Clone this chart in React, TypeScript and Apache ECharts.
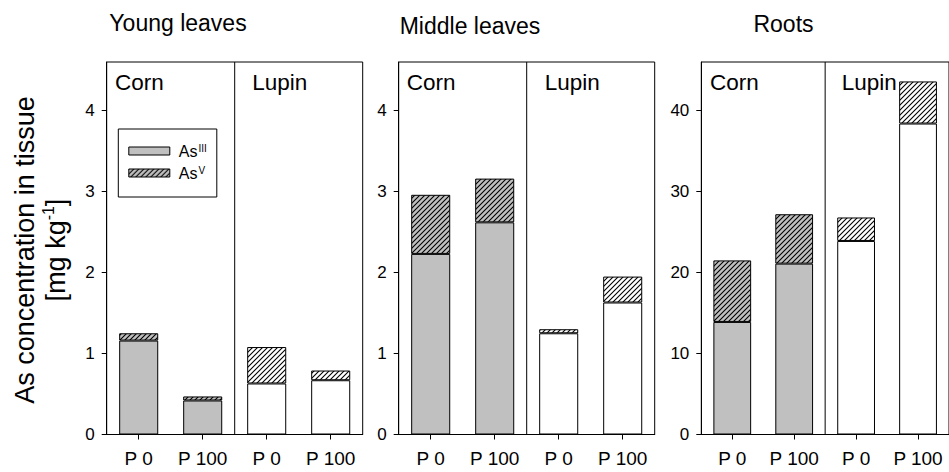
import React, { useEffect, useRef } from 'react';
import * as echarts from 'echarts';

// ---- data ----
const categories = ['P 0', 'P 100', 'P 0', 'P 100'];
const panelTitles = ['Young leaves', 'Middle leaves', 'Roots'];
const groupLabels = ['Corn', 'Lupin'];
const youngAsIII = [1.16, 0.42, 0.63, 0.67];
const youngAsV = [0.09, 0.05, 0.45, 0.12];
const middleAsIII = [2.23, 2.62, 1.25, 1.63];
const middleAsV = [0.73, 0.54, 0.05, 0.32];
const rootsAsIII = [13.9, 21.1, 23.9, 38.4];
const rootsAsV = [7.6, 6.1, 2.9, 5.2];
const yMaxes = [4.6, 4.6, 46];
const yTickValues = [
  [0, 1, 2, 3, 4],
  [0, 1, 2, 3, 4],
  [0, 10, 20, 30, 40],
];
const dividerPosition = 1.5;

const FONT = "'Liberation Sans', Arial, Helvetica, sans-serif";
const GRAY = '#c0c0c0';

function makeHatch(bg: string) {
  const s = 5;
  const svg =
    `<svg xmlns='http://www.w3.org/2000/svg' width='${s}' height='${s}'>` +
    `<rect width='${s}' height='${s}' fill='${bg}'/>` +
    `<path d='M0 ${s}L${s} 0M-1 1L1 -1M${s - 1} ${s + 1}L${s + 1} ${s - 1}' stroke='black' stroke-width='1.1'/>` +
    `</svg>`;
  const url = 'data:image/svg+xml;charset=utf-8,' + encodeURIComponent(svg);
  return { image: url, repeat: 'repeat', imageWidth: s, imageHeight: s } as any;
}

export default function App() {
  const ref = useRef<HTMLDivElement>(null);
  useEffect(() => {
    if (!ref.current) return;
    const chart = echarts.init(ref.current, null, { renderer: 'svg' });
    const hatchGray = makeHatch(GRAY);
    const hatchWhite = makeHatch('#ffffff');

    const gridLefts = [106.7, 398.7, 701.3];
    const gridTop = 62;
    const gridHeight = 372.5;
    const gridWidth = 256;

    const panelsAsIII = [youngAsIII, middleAsIII, rootsAsIII];
    const panelsAsV = [youngAsV, middleAsV, rootsAsV];

    const grid = gridLefts.map((l) => ({
      left: l,
      top: gridTop,
      width: gridWidth,
      height: gridHeight,
      show: true,
      borderColor: '#000',
      borderWidth: 1,
      backgroundColor: 'transparent',
      containLabel: false,
    }));

    const xAxis: any[] = [];
    gridLefts.forEach((_, i) => {
      xAxis.push({
        type: 'category',
        gridIndex: i,
        data: categories,
        axisLine: { show: true, onZero: false, lineStyle: { color: '#000', width: 1 } },
        axisTick: { show: true, alignWithLabel: true, length: 5, lineStyle: { color: '#000' } },
        axisLabel: { fontSize: 19, color: '#000', fontFamily: FONT, margin: 14, interval: 0 },
        splitLine: { show: false },
      });
    });
    gridLefts.forEach((_, i) => {
      xAxis.push({
        type: 'value',
        gridIndex: i,
        min: -0.5,
        max: 3.5,
        show: false,
        axisLine: { onZero: false },
      });
    });

    const yAxis = gridLefts.map((_, i) => ({
      type: 'value',
      gridIndex: i,
      min: 0,
      max: yMaxes[i],
      position: 'left',
      axisLine: { show: true, onZero: false, lineStyle: { color: '#000', width: 1 } },
      axisTick: { show: true, length: 5, lineStyle: { color: '#000' }, customValues: yTickValues[i] },
      axisLabel: { fontSize: 17, color: '#000', fontFamily: FONT, margin: 12, customValues: yTickValues[i] },
      splitLine: { show: false },
    }));

    const series: any[] = [];
    gridLefts.forEach((_, i) => {
      series.push({
        type: 'bar',
        name: 'AsIII',
        xAxisIndex: i,
        yAxisIndex: i,
        stack: 'g' + i,
        barWidth: '61%',
        itemStyle: { color: GRAY, borderColor: '#000', borderWidth: 1 },
        data: panelsAsIII[i].map((v, j) => ({
          value: v,
          itemStyle: { color: j < 2 ? GRAY : '#ffffff' },
        })),
      });
      series.push({
        type: 'bar',
        name: 'AsV',
        xAxisIndex: i,
        yAxisIndex: i,
        stack: 'g' + i,
        barWidth: '61%',
        itemStyle: { color: hatchGray, borderColor: '#000', borderWidth: 1 },
        data: panelsAsV[i].map((v, j) => ({
          value: v,
          itemStyle: { color: j < 2 ? hatchGray : hatchWhite },
        })),
      });
      series.push({
        type: 'line',
        name: 'divider' + i,
        xAxisIndex: 3 + i,
        yAxisIndex: i,
        symbol: 'none',
        silent: true,
        lineStyle: { color: '#000', width: 1 },
        data: [
          [dividerPosition, 0],
          [dividerPosition, yMaxes[i]],
        ],
      });
    });

    const titlePos = [
      [178, 23],
      [470, 25.5],
      [783.5, 24],
    ];
    const cornX = [115, 406.7, 710];
    const lupinX = [252.3, 544.7, 841.7];

    const graphic: any[] = [];
    const txt = (text: string, x: number, y: number, align: string, size: number) => ({
      type: 'text',
      x,
      y,
      style: {
        text,
        fill: '#000',
        fontSize: size,
        fontFamily: FONT,
        align,
        verticalAlign: 'middle',
        textAlign: align,
        textVerticalAlign: 'middle',
      },
    });
    panelTitles.forEach((t, i) => {
      graphic.push(txt(t, titlePos[i][0], titlePos[i][1], 'center', 23));
      graphic.push(txt(groupLabels[0], cornX[i], 82, 'left', 22.5));
      graphic.push(txt(groupLabels[1], lupinX[i], 82, 'left', 22.5));
    });
    graphic.push({
      type: 'text',
      x: 40,
      y: 250,
      rotation: Math.PI / 2,
      style: {
        text: '{b|As concentration in tissue}\n{b|[mg kg}{sup|-1}{b|]}',
        fill: '#000',
        fontSize: 27,
        fontFamily: FONT,
        align: 'center',
        verticalAlign: 'middle',
        textAlign: 'center',
        textVerticalAlign: 'middle',
        rich: {
          b: { fontSize: 27, fontFamily: FONT, lineHeight: 31, fill: '#000' },
          sup: { fontSize: 16, fontFamily: FONT, lineHeight: 14, verticalAlign: 'top', fill: '#000' },
        },
      },
    });

    chart.setOption({
      animation: false,
      grid,
      xAxis,
      yAxis,
      series,
      graphic,
      legend: {
        data: ['AsIII', 'AsV'],
        orient: 'vertical',
        left: 118.3,
        top: 129,
        padding: [14, 10, 16, 10],
        itemGap: 6,
        itemWidth: 41,
        itemHeight: 8,
        borderColor: '#000',
        borderWidth: 1,
        backgroundColor: '#fff',
        selectedMode: false,
        icon: 'rect',
        itemStyle: { borderColor: '#000', borderWidth: 1 },
        formatter: (name: string) => (name === 'AsIII' ? '{a|As}{sup|III}' : '{a|As}{sup|V}'),
        textStyle: {
          fontSize: 16,
          fontFamily: FONT,
          color: '#000',
          rich: {
            a: { fontSize: 16, fontFamily: FONT, lineHeight: 16, color: '#000', padding: [0, 0, 0, 4] },
            sup: { fontSize: 10, fontFamily: FONT, lineHeight: 9, verticalAlign: 'top', color: '#000', padding: [0, 0, 0, 1] },
          },
        },
      },
    });
    return () => chart.dispose();
  }, []);
  return (
    <div
      ref={ref}
      style={{ position: 'fixed', left: 0, top: 0, width: 949, height: 472, background: '#fff' }}
    />
  );
}
